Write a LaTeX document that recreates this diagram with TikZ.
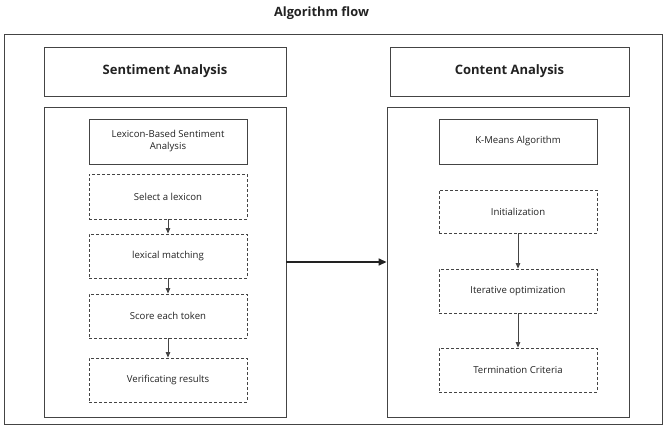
\documentclass[tikz,border=0pt]{standalone}
\usepackage{fontspec}
\setmainfont{Open Sans}
\usetikzlibrary{arrows.meta}
\definecolor{ln}{HTML}{444444}
\definecolor{tx}{HTML}{222222}
\tikzset{
  x=1pt,y=-1pt,
  frame/.style={draw=ln,line width=0.9pt},
  solidbox/.style={draw=ln,line width=0.8pt,minimum width=158pt,minimum height=45pt,text=tx,font=\fontsize{9.6}{12}\selectfont,align=center,inner sep=0pt},
  dashbox/.style={solidbox,dashed,dash pattern=on 3pt off 2pt},
  header/.style={draw=ln,line width=0.9pt,font=\bfseries\fontsize{13}{16}\selectfont,text=tx,inner sep=0pt},
  flow/.style={draw=ln,line width=0.8pt,-{Triangle[length=5.5pt,width=4.5pt]}},
  bigflow/.style={draw=tx,line width=1.6pt,-{Triangle[length=8pt,width=7pt]}}
}
\begin{document}
\begin{tikzpicture}
\useasboundingbox (0,0) rectangle (668,430);
\node[font=\bfseries\fontsize{12.8}{15}\selectfont,text=tx] (title) at (321.5,13) {Algorithm flow};
\draw[frame] (4,34) rectangle (662,424);
% headers
\node[header,minimum width=242pt,minimum height=49pt] (sa) at (165,71.5) {Sentiment Analysis};
\node[header,minimum width=239pt,minimum height=49pt] (ca) at (509.5,71.5) {Content Analysis};
% containers
\node[draw=ln,line width=0.9pt,minimum width=242pt,minimum height=310pt,inner sep=0pt] (lc) at (165,262) {};
\node[draw=ln,line width=0.9pt,minimum width=242pt,minimum height=310pt,inner sep=0pt] (rc) at (508,262) {};
% left column
\node[solidbox] (lb) at (168,141.5) {Lexicon-Based Sentiment\\Analysis};
\node[dashbox,minimum height=45pt] (l1) at (168,196.5) {Select a lexicon};
\node[dashbox,minimum height=44pt] (l2) at (168,256) {lexical matching};
\node[dashbox,minimum height=44pt] (l3) at (168,316) {Score each token};
\node[dashbox,minimum height=44pt] (l4) at (168,380) {Verificating results};
\draw[flow] (l1) -- (l2);
\draw[flow] (l2) -- (l3);
\draw[flow] (l3) -- (l4);
% right column
\node[solidbox] (km) at (518,141.5) {K-Means Algorithm};
\node[dashbox,minimum height=43pt] (r1) at (518,211.5) {Initialization};
\node[dashbox,minimum height=44pt] (r2) at (518,291) {Iterative optimization};
\node[dashbox,minimum height=44pt] (r3) at (518,370) {Termination Criteria};
\draw[flow] (r1) -- (r2);
\draw[flow] (r2) -- (r3);
% main arrow
\draw[bigflow] (lc.east |- 0,262) -- (rc.west |- 0,262);
\end{tikzpicture}
\end{document}
